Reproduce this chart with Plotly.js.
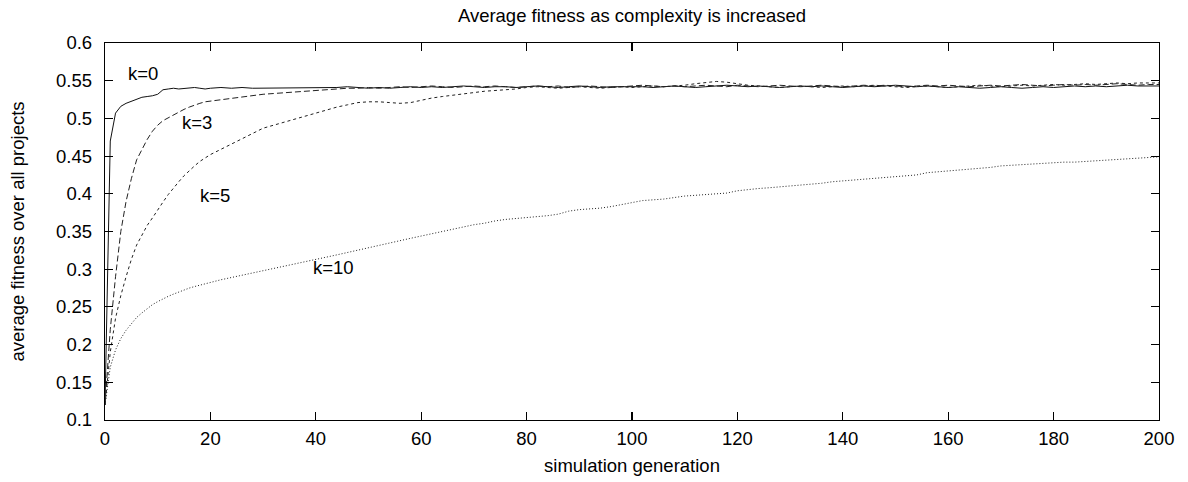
<!DOCTYPE html>
<html>
<head>
<meta charset="utf-8">
<script src="https://cdn.plot.ly/plotly-3.0.1.min.js"></script>
<style>html,body{margin:0;padding:0;background:#fff}#chart{width:1188px;height:482px}</style>
</head>
<body>
<div id="chart"></div>
<script>
// generations
const generations = [0,1,2,3,4,5,6,7,8,9,10,11,12,13,14,15,16,17,18,19,20,
22,24,26,28,30,32,34,36,38,40,42,44,46,48,50,52,54,56,58,60,
62,64,66,68,70,72,74,76,78,80,82,84,86,88,90,92,94,96,98,100,
102,104,106,108,110,112,114,116,118,120,122,124,126,128,130,132,134,136,138,140,
142,144,146,148,150,152,154,156,158,160,162,164,166,168,170,172,174,176,178,180,
182,184,186,188,190,192,194,196,198,200];

const fitnessK0 = [0.12,0.47,0.507,0.516,0.520,0.523,0.526,0.528,0.529,0.530,0.532,0.538,0.539,0.540,0.539,0.540,0.540,0.541,0.540,0.539,0.540,
0.541,0.540,0.541,0.540,0.540,0.541,0.541,0.540,0.541,0.541,
0.540,0.541,0.542,0.541,0.540,0.541,0.540,0.541,0.542,0.541,
0.542,0.541,0.542,0.543,0.542,0.541,0.542,0.542,0.541,0.542,
0.543,0.542,0.541,0.542,0.543,0.542,0.541,0.542,0.542,0.543,
0.542,0.541,0.542,0.543,0.542,0.541,0.542,0.543,0.544,0.543,
0.542,0.543,0.542,0.541,0.542,0.543,0.542,0.543,0.542,0.541,
0.542,0.543,0.542,0.543,0.544,0.543,0.542,0.543,0.542,0.541,
0.542,0.541,0.540,0.541,0.542,0.541,0.540,0.541,0.542,0.541,
0.542,0.543,0.542,0.543,0.542,0.543,0.544,0.543,0.543,0.543];

const fitnessK3 = [0.12,0.22,0.29,0.35,0.39,0.42,0.445,0.459,0.472,0.483,0.491,0.497,0.501,0.505,0.509,0.512,0.515,0.518,0.520,0.522,0.523,
0.525,0.527,0.529,0.531,0.532,0.533,0.534,0.535,0.536,0.537,
0.538,0.539,0.540,0.540,0.541,0.540,0.541,0.542,0.541,0.542,
0.543,0.542,0.541,0.542,0.543,0.542,0.543,0.542,0.541,0.542,
0.543,0.542,0.543,0.541,0.542,0.543,0.542,0.541,0.542,0.543,
0.544,0.543,0.542,0.543,0.542,0.543,0.544,0.543,0.542,0.544,
0.543,0.542,0.543,0.544,0.543,0.542,0.543,0.544,0.543,0.542,
0.543,0.544,0.543,0.544,0.543,0.542,0.543,0.544,0.543,0.544,
0.543,0.542,0.543,0.544,0.543,0.544,0.545,0.544,0.543,0.544,
0.545,0.544,0.545,0.544,0.545,0.546,0.545,0.544,0.545,0.545];

const fitnessK5 = [0.12,0.19,0.235,0.265,0.29,0.313,0.332,0.345,0.358,0.368,0.379,0.389,0.399,0.408,0.416,0.424,0.431,0.437,0.443,0.448,0.452,
0.459,0.466,0.473,0.480,0.487,0.491,0.495,0.500,0.504,0.508,
0.511,0.515,0.518,0.521,0.522,0.522,0.521,0.520,0.521,0.524,
0.527,0.529,0.531,0.533,0.535,0.536,0.537,0.538,0.539,0.541,
0.542,0.541,0.540,0.541,0.542,0.541,0.540,0.541,0.542,0.541,
0.542,0.543,0.542,0.543,0.544,0.546,0.548,0.549,0.548,0.546,
0.544,0.543,0.542,0.541,0.542,0.543,0.542,0.541,0.542,0.543,
0.542,0.543,0.544,0.543,0.542,0.541,0.542,0.543,0.542,0.541,
0.542,0.543,0.544,0.543,0.542,0.543,0.544,0.543,0.544,0.545,
0.544,0.545,0.546,0.545,0.546,0.547,0.546,0.547,0.547,0.547];

const fitnessK10 = [0.12,0.17,0.193,0.208,0.219,0.228,0.236,0.242,0.248,0.253,0.257,0.261,0.264,0.267,0.270,0.273,0.275,0.277,0.279,0.281,0.283,
0.286,0.289,0.292,0.295,0.298,0.300,0.303,0.306,0.309,0.313,
0.316,0.319,0.322,0.325,0.328,0.331,0.334,0.337,0.341,0.344,
0.347,0.350,0.354,0.357,0.359,0.361,0.364,0.366,0.367,0.368,
0.369,0.371,0.373,0.377,0.379,0.380,0.381,0.383,0.386,0.389,
0.391,0.392,0.393,0.395,0.397,0.398,0.399,0.400,0.401,0.404,
0.406,0.407,0.408,0.409,0.411,0.412,0.413,0.414,0.416,0.417,
0.418,0.419,0.421,0.422,0.423,0.424,0.425,0.428,0.429,0.430,
0.431,0.433,0.434,0.435,0.437,0.438,0.439,0.440,0.441,0.441,
0.442,0.442,0.443,0.443,0.444,0.445,0.446,0.447,0.448,0.449];

const seriesLabels = ["k=0","k=3","k=5","k=10"];
const labelX = [7.2,17.5,20.9,43.3];
const labelY = [0.560,0.495,0.398,0.302];

const xTicks = [0,20,40,60,80,100,120,140,160,180,200];
const yTicks = [0.1,0.15,0.2,0.25,0.3,0.35,0.4,0.45,0.5,0.55,0.6];
const yTickText = ["0.1","0.15","0.2","0.25","0.3","0.35","0.4","0.45","0.5","0.55","0.6"];

const allSeries = [fitnessK0, fitnessK3, fitnessK5, fitnessK10];
const dashes = ["solid","6px,3px","3px,3px","1px,2px"];
const lineColors = ["#111","#222","#222","#222"];

const FONT = "Liberation Sans, Arial, Helvetica, sans-serif";
const FS = 18.5;

const traces = allSeries.map((ys, i) => ({
  x: generations, y: ys, type: "scatter", mode: "lines",
  name: seriesLabels[i],
  line: {color: lineColors[i], width: 1, dash: dashes[i]},
  hoverinfo: "skip"
}));

const annotations = seriesLabels.map((t, i) => ({
  x: labelX[i], y: labelY[i], xref: "x", yref: "y", text: t,
  showarrow: false, font: {family: FONT, size: FS, color: "#000"}
}));

const axisCommon = {
  showgrid: false, zeroline: false, showline: true, linecolor: "#000", linewidth: 1.2,
  mirror: "ticks", ticks: "inside", ticklen: 8, tickwidth: 1.2, tickcolor: "#000",
  tickfont: {family: FONT, size: FS, color: "#000"}
};

const layout = {
  width: 1188, height: 482,
  margin: {l: 105, r: 29, t: 43, b: 62},
  paper_bgcolor: "#fff", plot_bgcolor: "#fff",
  showlegend: false,
  title: {text: "Average fitness as complexity is increased", x: 0.5, xref: "paper", y: 0.968, yanchor: "middle",
          font: {family: FONT, size: FS, color: "#000"}},
  xaxis: Object.assign({}, axisCommon, {
    range: [0, 200], tickvals: xTicks, ticklabelstandoff: 2,
    title: {text: "simulation generation", standoff: 10, font: {family: FONT, size: FS, color: "#000"}}
  }),
  yaxis: Object.assign({}, axisCommon, {
    range: [0.1, 0.6], tickvals: yTicks, ticktext: yTickText, ticklabelstandoff: 8,
    title: {text: "average fitness over all projects", standoff: 26, font: {family: FONT, size: FS, color: "#000"}}
  }),
  annotations: annotations
};

Plotly.newPlot("chart", traces, layout, {staticPlot: true, displayModeBar: false});
</script>
</body>
</html>
